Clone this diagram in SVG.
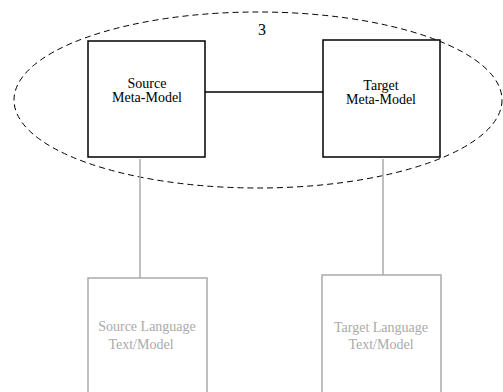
<svg xmlns="http://www.w3.org/2000/svg" width="503" height="392" viewBox="0 0 503 392">
  <style>
    .meta { fill: #fff; stroke: #000; stroke-width: 1.5; }
    .lang { fill: #fff; stroke: #aaa; stroke-width: 1.5; }
    .t { font-family: "Liberation Serif", "Times New Roman", serif; font-size: 14px; text-anchor: middle; }
    .tm { fill: #000; }
    .tl { fill: #aaa; }
    .link { stroke: #000; stroke-width: 1.5; fill: none; }
    .glink { stroke: #aaa; stroke-width: 1.5; fill: none; }
  </style>
  <rect width="503" height="392" fill="#fff"/>

  <!-- grouping boundary -->
  <g id="group3">
    <ellipse cx="258" cy="100" rx="244" ry="88" fill="none" stroke="#000" stroke-width="1" stroke-dasharray="6,4"/>
    <text class="t tm" x="262" y="35" style="font-size:16px">3</text>
  </g>

  <g id="connectors">
    <line class="link" x1="205" y1="92" x2="323" y2="92"/>
    <line class="glink" x1="140" y1="159" x2="140" y2="278"/>
    <line class="glink" x1="383" y1="159" x2="383" y2="275"/>
  </g>

  <g id="source-meta-model">
    <rect class="meta" x="88" y="41" width="117" height="116"/>
    <text class="t tm" x="147" y="88">Source</text>
    <text class="t tm" x="147" y="102">Meta-Model</text>
  </g>

  <g id="target-meta-model">
    <rect class="meta" x="323" y="40" width="117" height="117"/>
    <text class="t tm" x="381" y="90">Target</text>
    <text class="t tm" x="381" y="104">Meta-Model</text>
  </g>

  <g id="source-language">
    <rect class="lang" x="88" y="278" width="119" height="130"/>
    <text class="t tl" x="147" y="331">Source Language</text>
    <text class="t tl" x="141" y="349">Text/Model</text>
  </g>

  <g id="target-language">
    <rect class="lang" x="322" y="275" width="119" height="130"/>
    <text class="t tl" x="381" y="332">Target Language</text>
    <text class="t tl" x="381" y="349">Text/Model</text>
  </g>
</svg>
